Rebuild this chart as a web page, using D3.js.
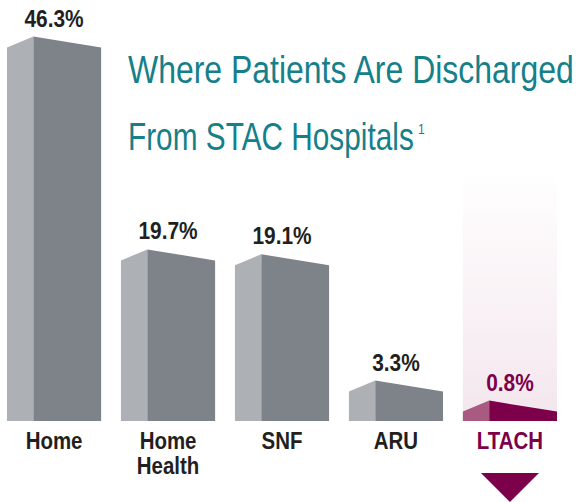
<!DOCTYPE html>
<html>
<head>
<meta charset="utf-8">
<script src="https://cdn.jsdelivr.net/npm/d3@7"></script>
<style>
  body { margin: 0; background: #fff; }
  svg { display: block; }
</style>
</head>
<body>
<svg id="chart" width="580" height="502"></svg>
<script>
// data
var categories = ["Home", "Home Health", "SNF", "ARU", "LTACH"];
var values = [46.3, 19.7, 19.1, 3.3, 0.8];
var valueLabels = ["46.3%", "19.7%", "19.1%", "3.3%", "0.8%"];
var titleLines = ["Where Patients Are Discharged", "From STAC Hospitals"];
var highlight = "LTACH";

var svg = d3.select("#chart"),
    bottom = 421,
    font = "'Liberation Sans Narrow', 'Arial Narrow', 'Liberation Sans', sans-serif";

var x = d3.scaleBand()
    .domain(categories)
    .range([7, 557])
    .paddingInner(0.174)
    .paddingOuter(0);

// bars keep a little base so the bevel always shows
var y = d3.scaleLinear()
    .domain([0, 50])
    .range([bottom - 14, bottom - 414]);

var data = categories.map(function(c, i) {
  return {cat: c, value: values[i], label: valueLabels[i]};
});

// squeeze a text to a given width (no condensed font available)
function fitWidth(text, px, py, w) {
  var n = text.node().getComputedTextLength();
  text.attr("transform", "translate(" + px + "," + py + ") scale(" + (w / n) + ",1)");
}

// gradient behind highlighted bar
var defs = svg.append("defs");
var grad = defs.append("linearGradient")
    .attr("id", "hl")
    .attr("x1", 0).attr("y1", 0).attr("x2", 0).attr("y2", 1);
grad.append("stop").attr("offset", "0%").attr("stop-color", "#ffffff");
grad.append("stop").attr("offset", "100%").attr("stop-color", "#f3e6ed");

svg.append("rect")
    .attr("x", x(highlight))
    .attr("y", 170)
    .attr("width", x.bandwidth())
    .attr("height", bottom - 170)
    .attr("fill", "url(#hl)");

// title
var title = svg.append("g")
    .attr("font-family", font)
    .attr("fill", "#15808a");

var t1 = title.append("text")
    .attr("font-size", 39)
    .text(titleLines[0]);
fitWidth(t1, 128, 83, 446);

var t2 = title.append("text")
    .attr("font-size", 39)
    .text(titleLines[1]);
fitWidth(t2, 128, 150, 286);

title.append("text")
    .attr("x", 418).attr("y", 134)
    .attr("font-size", 15)
    .attr("transform", "translate(418,0) scale(0.8,1) translate(-418,0)")
    .text("1");

// bars
var bars = svg.append("g").selectAll("g")
    .data(data)
  .enter().append("g");

var side = 0.28, bevel = 11, squeeze = 0.87;

bars.append("path")
    .attr("fill", function(d) { return d.cat === highlight ? "#a85a80" : "#adb1b5"; })
    .attr("d", function(d) {
      var x0 = x(d.cat), xm = x0 + x.bandwidth() * side, top = y(d.value);
      return "M" + x0 + "," + bottom + "L" + x0 + "," + (top + bevel) +
             "L" + xm + "," + top + "L" + xm + "," + bottom + "Z";
    });

bars.append("path")
    .attr("fill", function(d) { return d.cat === highlight ? "#7c004a" : "#7e838a"; })
    .attr("d", function(d) {
      var x0 = x(d.cat), xm = x0 + x.bandwidth() * side, x1 = x0 + x.bandwidth(), top = y(d.value);
      return "M" + xm + "," + bottom + "L" + xm + "," + top +
             "L" + x1 + "," + (top + bevel) + "L" + x1 + "," + bottom + "Z";
    });

// value labels
bars.append("text")
    .attr("transform", function(d) {
      return "translate(" + (x(d.cat) + x.bandwidth() / 2) + "," + (y(d.value) - 10) + ") scale(" + squeeze + ",1)";
    })
    .attr("text-anchor", "middle")
    .attr("font-family", font)
    .attr("font-weight", "bold")
    .attr("font-size", 24)
    .attr("fill", function(d) { return d.cat === highlight ? "#7c004a" : "#231f20"; })
    .text(function(d) { return d.label; });

// category labels
var catLabels = bars.append("text")
    .attr("transform", function(d) {
      return "translate(" + (x(d.cat) + x.bandwidth() / 2) + ",449) scale(" + squeeze + ",1)";
    })
    .attr("text-anchor", "middle")
    .attr("font-family", font)
    .attr("font-weight", "bold")
    .attr("font-size", 23.5)
    .attr("fill", function(d) { return d.cat === highlight ? "#7c004a" : "#231f20"; });

catLabels.selectAll("tspan")
    .data(function(d) { return d.cat.split(" "); })
  .enter().append("tspan")
    .attr("x", 0)
    .attr("y", function(d, i) { return i * 25; })
    .text(function(d) { return d; });

// arrow under highlighted bar
var ac = x(highlight) + x.bandwidth() / 2;
svg.append("path")
    .attr("fill", "#7c004a")
    .attr("d", "M" + (ac - 29) + ",473L" + (ac + 29) + ",473L" + ac + ",502Z");
</script>
</body>
</html>
